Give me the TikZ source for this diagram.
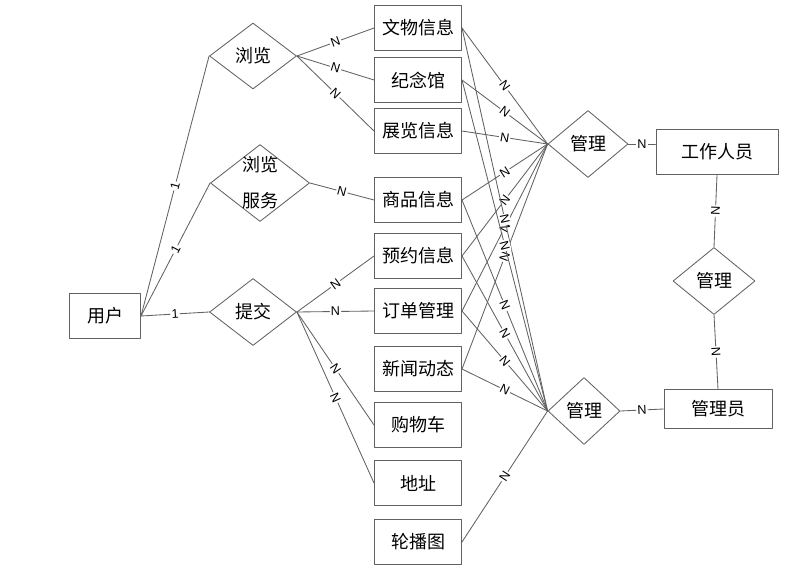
\documentclass[tikz,border=0pt]{standalone}
\usepackage{fontspec}
\setmainfont{Liberation Sans}
\newfontfamily\cjk{Noto Sans CJK SC}
\usetikzlibrary{shapes.geometric}

\begin{document}
\begin{tikzpicture}[x=0.025cm, y=-0.025cm, line cap=round, line join=round,
  link/.style={draw=black!62, line width=0.6pt},
  entity/.style={rectangle, draw=black!62, line width=0.7pt, inner sep=0pt,
    minimum width=2.175cm, minimum height=1.125cm, font=\cjk\fontsize{12.8}{15}\selectfont},
  rel/.style={diamond, draw=black!62, line width=0.6pt, inner sep=0pt,
    minimum height=1.675cm, font=\cjk\fontsize{12.8}{15}\selectfont},
  card/.style={sloped, fill=white, inner sep=0.8pt, font=\fontsize{9}{10}\selectfont}]

  % canvas (pixel grid of the original)
  \useasboundingbox (0,0) rectangle (802,573);

  % user side 
  \node[entity, minimum width=1.775cm] (user) at (105,316) {用户};
  \node[rel, minimum width=2.175cm, minimum height=1.65cm] (browse) at (253,56) {浏览};
  \node[rel, minimum width=2.475cm, minimum height=1.925cm,
    label={[align=center, font=\cjk\fontsize{12.8}{25.6}\selectfont]center:浏览\\服务}] (browseSvc) at (260,183) {};
  \node[rel, minimum width=2.175cm] (submit) at (253,312) {提交};

  % entity column
  \node[entity] (relic)    at (418,28)  {文物信息};
  \node[entity] (memorial) at (418,80)  {纪念馆};
  \node[entity] (exhibit)  at (418,131) {展览信息};
  \node[entity] (goods)    at (418,200) {商品信息};
  \node[entity] (booking)  at (418,256) {预约信息};
  \node[entity] (order)    at (418,311) {订单管理};
  \node[entity] (news)     at (418,369) {新闻动态};
  \node[entity] (cart)     at (418,425) {购物车};
  \node[entity] (address)  at (418,483) {地址};
  \node[entity] (banner)   at (418,542) {轮播图};

  % management side
  \node[rel, minimum width=2cm]    (manageStaff) at (588,144) {管理};
  \node[rel, minimum width=1.8cm]  (manageAdmin) at (584,411) {管理};
  \node[rel, minimum width=2.05cm] (manageLink)  at (714,281) {管理};
  \node[entity, minimum width=3.05cm] (staff) at (717,152) {工作人员};
  \node[entity, minimum width=2.7cm, minimum height=0.975cm] (admin) at (718,409) {管理员};

  % user -- relationships
  \draw[link] (user.east) -- node[card] {1} (browse.west);
  \draw[link] (user.east) -- node[card] {1} (browseSvc.west);
  \draw[link] (user.east) -- node[card] {1} (submit.west);

  % browse / submit -- entities
  \draw[link] (browse.east) -- node[card] {N} (relic.west);
  \draw[link] (browse.east) -- node[card] {N} (memorial.west);
  \draw[link] (browse.east) -- node[card] {N} (exhibit.west);
  \draw[link] (browseSvc.east) -- node[card] {N} (goods.west);
  \draw[link] (submit.east) -- node[card] {N} (booking.west);
  \draw[link] (submit.east) -- node[card] {N} (order.west);
  \draw[link] (submit.east) -- node[card] {N} (cart.west);
  \draw[link] (submit.east) -- node[card] {N} (address.west);

  % entities -- staff management
  \draw[link] (relic.east)    -- node[card] {N} (manageStaff.west);
  \draw[link] (memorial.east) -- node[card] {N} (manageStaff.west);
  \draw[link] (exhibit.east)  -- node[card] {N} (manageStaff.west);
  \draw[link] (goods.east)    -- node[card] {N} (manageStaff.west);
  \draw[link] (booking.east)  -- node[card] {N} (manageStaff.west);
  \draw[link] (order.east)    -- node[card] {N} (manageStaff.west);
  \draw[link] (news.east)     -- node[card] {N} (manageStaff.west);

  % entities -- admin management
  \draw[link] (relic.east)    -- node[card] {N} (manageAdmin.west);
  \draw[link] (memorial.east) -- node[card] {N} (manageAdmin.west);
  \draw[link] (goods.east)    -- node[card] {N} (manageAdmin.west);
  \draw[link] (booking.east)  -- node[card] {N} (manageAdmin.west);
  \draw[link] (order.east)    -- node[card] {N} (manageAdmin.west);
  \draw[link] (news.east)     -- node[card] {N} (manageAdmin.west);
  \draw[link] (banner.east)   -- node[card] {N} (manageAdmin.west);

  % staff / admin
  \draw[link] (manageStaff.east) -- node[card] {N} (manageStaff.east -| staff.west);
  \draw[link] (manageAdmin.east) -- node[card] {N} (admin.west);
  \draw[link] (staff.south) -- node[card] {N} (manageLink.north);
  \draw[link] (manageLink.south) -- node[card] {N} (admin.north);

\end{tikzpicture}
\end{document}
